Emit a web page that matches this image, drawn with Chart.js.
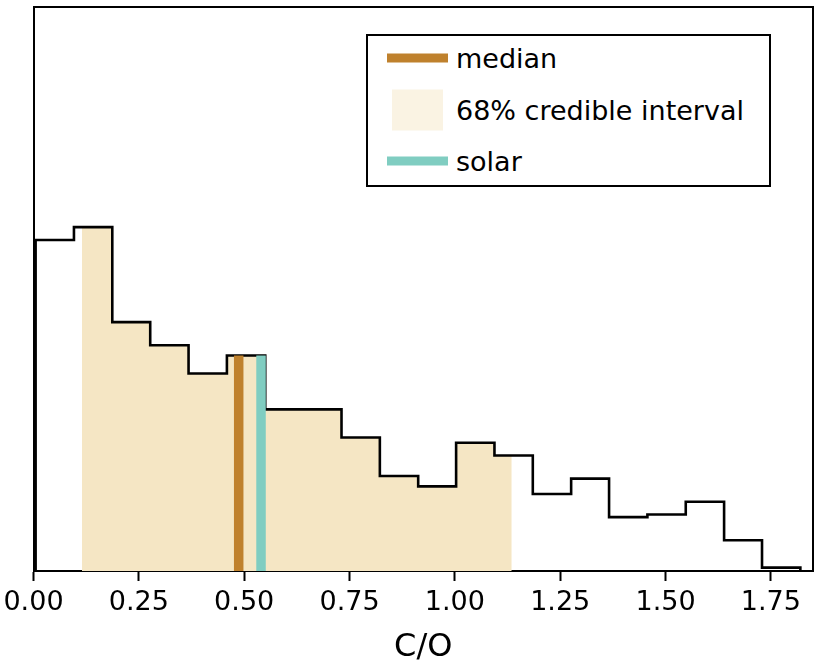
<!DOCTYPE html>
<html>
<head>
<meta charset="utf-8">
<script src="https://cdn.jsdelivr.net/npm/chart.js@4.4.1/dist/chart.umd.min.js"></script>
<style>
  html, body { margin: 0; padding: 0; background: #fff; }
  #wrap { position: relative; width: 830px; height: 664px; }
  #legend {
    position: absolute; left: 366px; top: 34px; width: 401px; height: 149px;
    border: 2px solid #000; background: #fff;
    font-family: "DejaVu Sans", sans-serif; font-size: 27px; color: #000;
  }
  .row { position: absolute; left: 0; height: 40px; width: 100%; }
  .row span { position: absolute; left: 88px; top: 50%; transform: translateY(-50%); white-space: nowrap; line-height: 1; }
  .sw-line { position: absolute; left: 19px; width: 61px; height: 9px; top: 50%; transform: translateY(-50%); }
  .sw-patch { position: absolute; left: 24px; width: 51px; height: 41px; top: 50%; transform: translateY(-50%); }
</style>
</head>
<body>
<div id="wrap">
  <canvas id="c"></canvas>
  <div id="legend">
    <div class="row" style="top:2px"><div class="sw-line" style="background:#bf812d"></div><span>median</span></div>
    <div class="row" style="top:54px"><div class="sw-patch" style="background:#faf3e3"></div><span>68% credible interval</span></div>
    <div class="row" style="top:105px"><div class="sw-line" style="background:#80cdc1"></div><span>solar</span></div>
  </div>
</div>
<script>
// ---- data ----
const binEdges = [0.005, 0.096, 0.187, 0.277, 0.368, 0.459, 0.550, 0.640, 0.731, 0.822,
                  0.913, 1.003, 1.094, 1.185, 1.276, 1.366, 1.457, 1.548, 1.639, 1.729, 1.820];
const density = [1.29, 1.34, 0.97, 0.88, 0.77, 0.84, 0.63, 0.63, 0.52, 0.37,
                 0.33, 0.50, 0.45, 0.30, 0.36, 0.21, 0.22, 0.27, 0.12, 0.013];
const credibleInterval = [0.115, 1.135];
const medianCO = 0.487;
const solarCO = 0.54;
const xTickValues = [0, 0.25, 0.5, 0.75, 1.0, 1.25, 1.5, 1.75];
const xLimits = [0, 1.850];
const yLimits = [0, 2.20];

// ---- derived geometry (through data coordinates) ----
function heightAt(x) {
  for (let i = 0; i < density.length; i++) {
    if (x >= binEdges[i] && x < binEdges[i + 1]) return density[i];
  }
  return 0;
}
const stepPts = [{x: binEdges[0], y: 0}];
for (let i = 0; i < density.length; i++) {
  stepPts.push({x: binEdges[i], y: density[i]});
  stepPts.push({x: binEdges[i + 1], y: density[i]});
}
stepPts.push({x: binEdges[binEdges.length - 1], y: 0});

const [lo, hi] = credibleInterval;
const fillPts = [{x: lo, y: 0}, {x: lo, y: heightAt(lo)}];
for (let i = 0; i < density.length; i++) {
  const e = binEdges[i];
  if (e > lo && e < hi) {
    fillPts.push({x: e, y: density[i - 1]});
    fillPts.push({x: e, y: density[i]});
  }
}
fillPts.push({x: hi, y: heightAt(hi)});
fillPts.push({x: hi, y: 0});

const medianPts = [{x: medianCO, y: 0}, {x: medianCO, y: heightAt(medianCO)}];
const solarPts = [{x: solarCO, y: 0}, {x: solarCO, y: heightAt(solarCO)}];

const frameAxis = (pos, size) => ({
  position: pos, display: true,
  grid: { display: false, drawTicks: false },
  ticks: { display: false },
  border: { display: true, color: '#000', width: 2 },
  afterFit: (s) => {
    if (pos === 'top') s.height = size; else s.width = size;
    s.paddingLeft = s.paddingRight = s.paddingTop = s.paddingBottom = 0;
  }
});

new Chart(document.getElementById('c'), {
  type: 'line',
  data: {
    datasets: [
      { label: '68% credible interval', data: fillPts, fill: 'origin', backgroundColor: '#f5e6c4',
        borderWidth: 0, pointRadius: 0, tension: 0, order: 4 },
      { label: 'histogram', data: stepPts, fill: false, borderColor: '#000', borderWidth: 2.6,
        pointRadius: 0, tension: 0, order: 3, borderJoinStyle: 'miter' },
      { label: 'solar', data: solarPts, fill: false, borderColor: '#80cdc1', borderWidth: 9.5,
        borderCapStyle: 'butt', pointRadius: 0, order: 2 },
      { label: 'median', data: medianPts, fill: false, borderColor: '#bf812d', borderWidth: 9.5,
        borderCapStyle: 'butt', pointRadius: 0, order: 1 }
    ]
  },
  options: {
    responsive: true, maintainAspectRatio: false, animation: false,
    layout: { padding: 0 },
    plugins: { legend: { display: false }, tooltip: { enabled: false } },
    scales: {
      x: {
        type: 'linear', position: 'bottom', min: xLimits[0], max: xLimits[1],
        afterBuildTicks: (s) => { s.ticks = xTickValues.map(v => ({value: v})); },
        afterFit: (s) => { s.height = 93; s.paddingLeft = 0; s.paddingRight = 0; },
        ticks: { includeBounds: false, color: '#000', padding: 6,
                 font: { family: 'DejaVu Sans', size: 27 },
                 callback: (v) => Number(v).toFixed(2), maxRotation: 0, autoSkip: false },
        grid: { display: true, drawOnChartArea: false, drawTicks: true, tickLength: 10,
                tickWidth: 2, tickColor: '#000', color: '#000' },
        border: { display: true, color: '#000', width: 2 },
        title: { display: true, text: 'C/O', color: '#000',
                 font: { family: 'DejaVu Sans', size: 32, lineHeight: 1.0 }, padding: { top: 0, bottom: 0 } }
      },
      y: Object.assign(frameAxis('left', 33.5), { min: yLimits[0], max: yLimits[1] }),
      yR: Object.assign(frameAxis('right', 17), { min: yLimits[0], max: yLimits[1] }),
      xT: Object.assign(frameAxis('top', 6.5), { type: 'linear', min: xLimits[0], max: xLimits[1] })
    }
  }
});
</script>
</body>
</html>
